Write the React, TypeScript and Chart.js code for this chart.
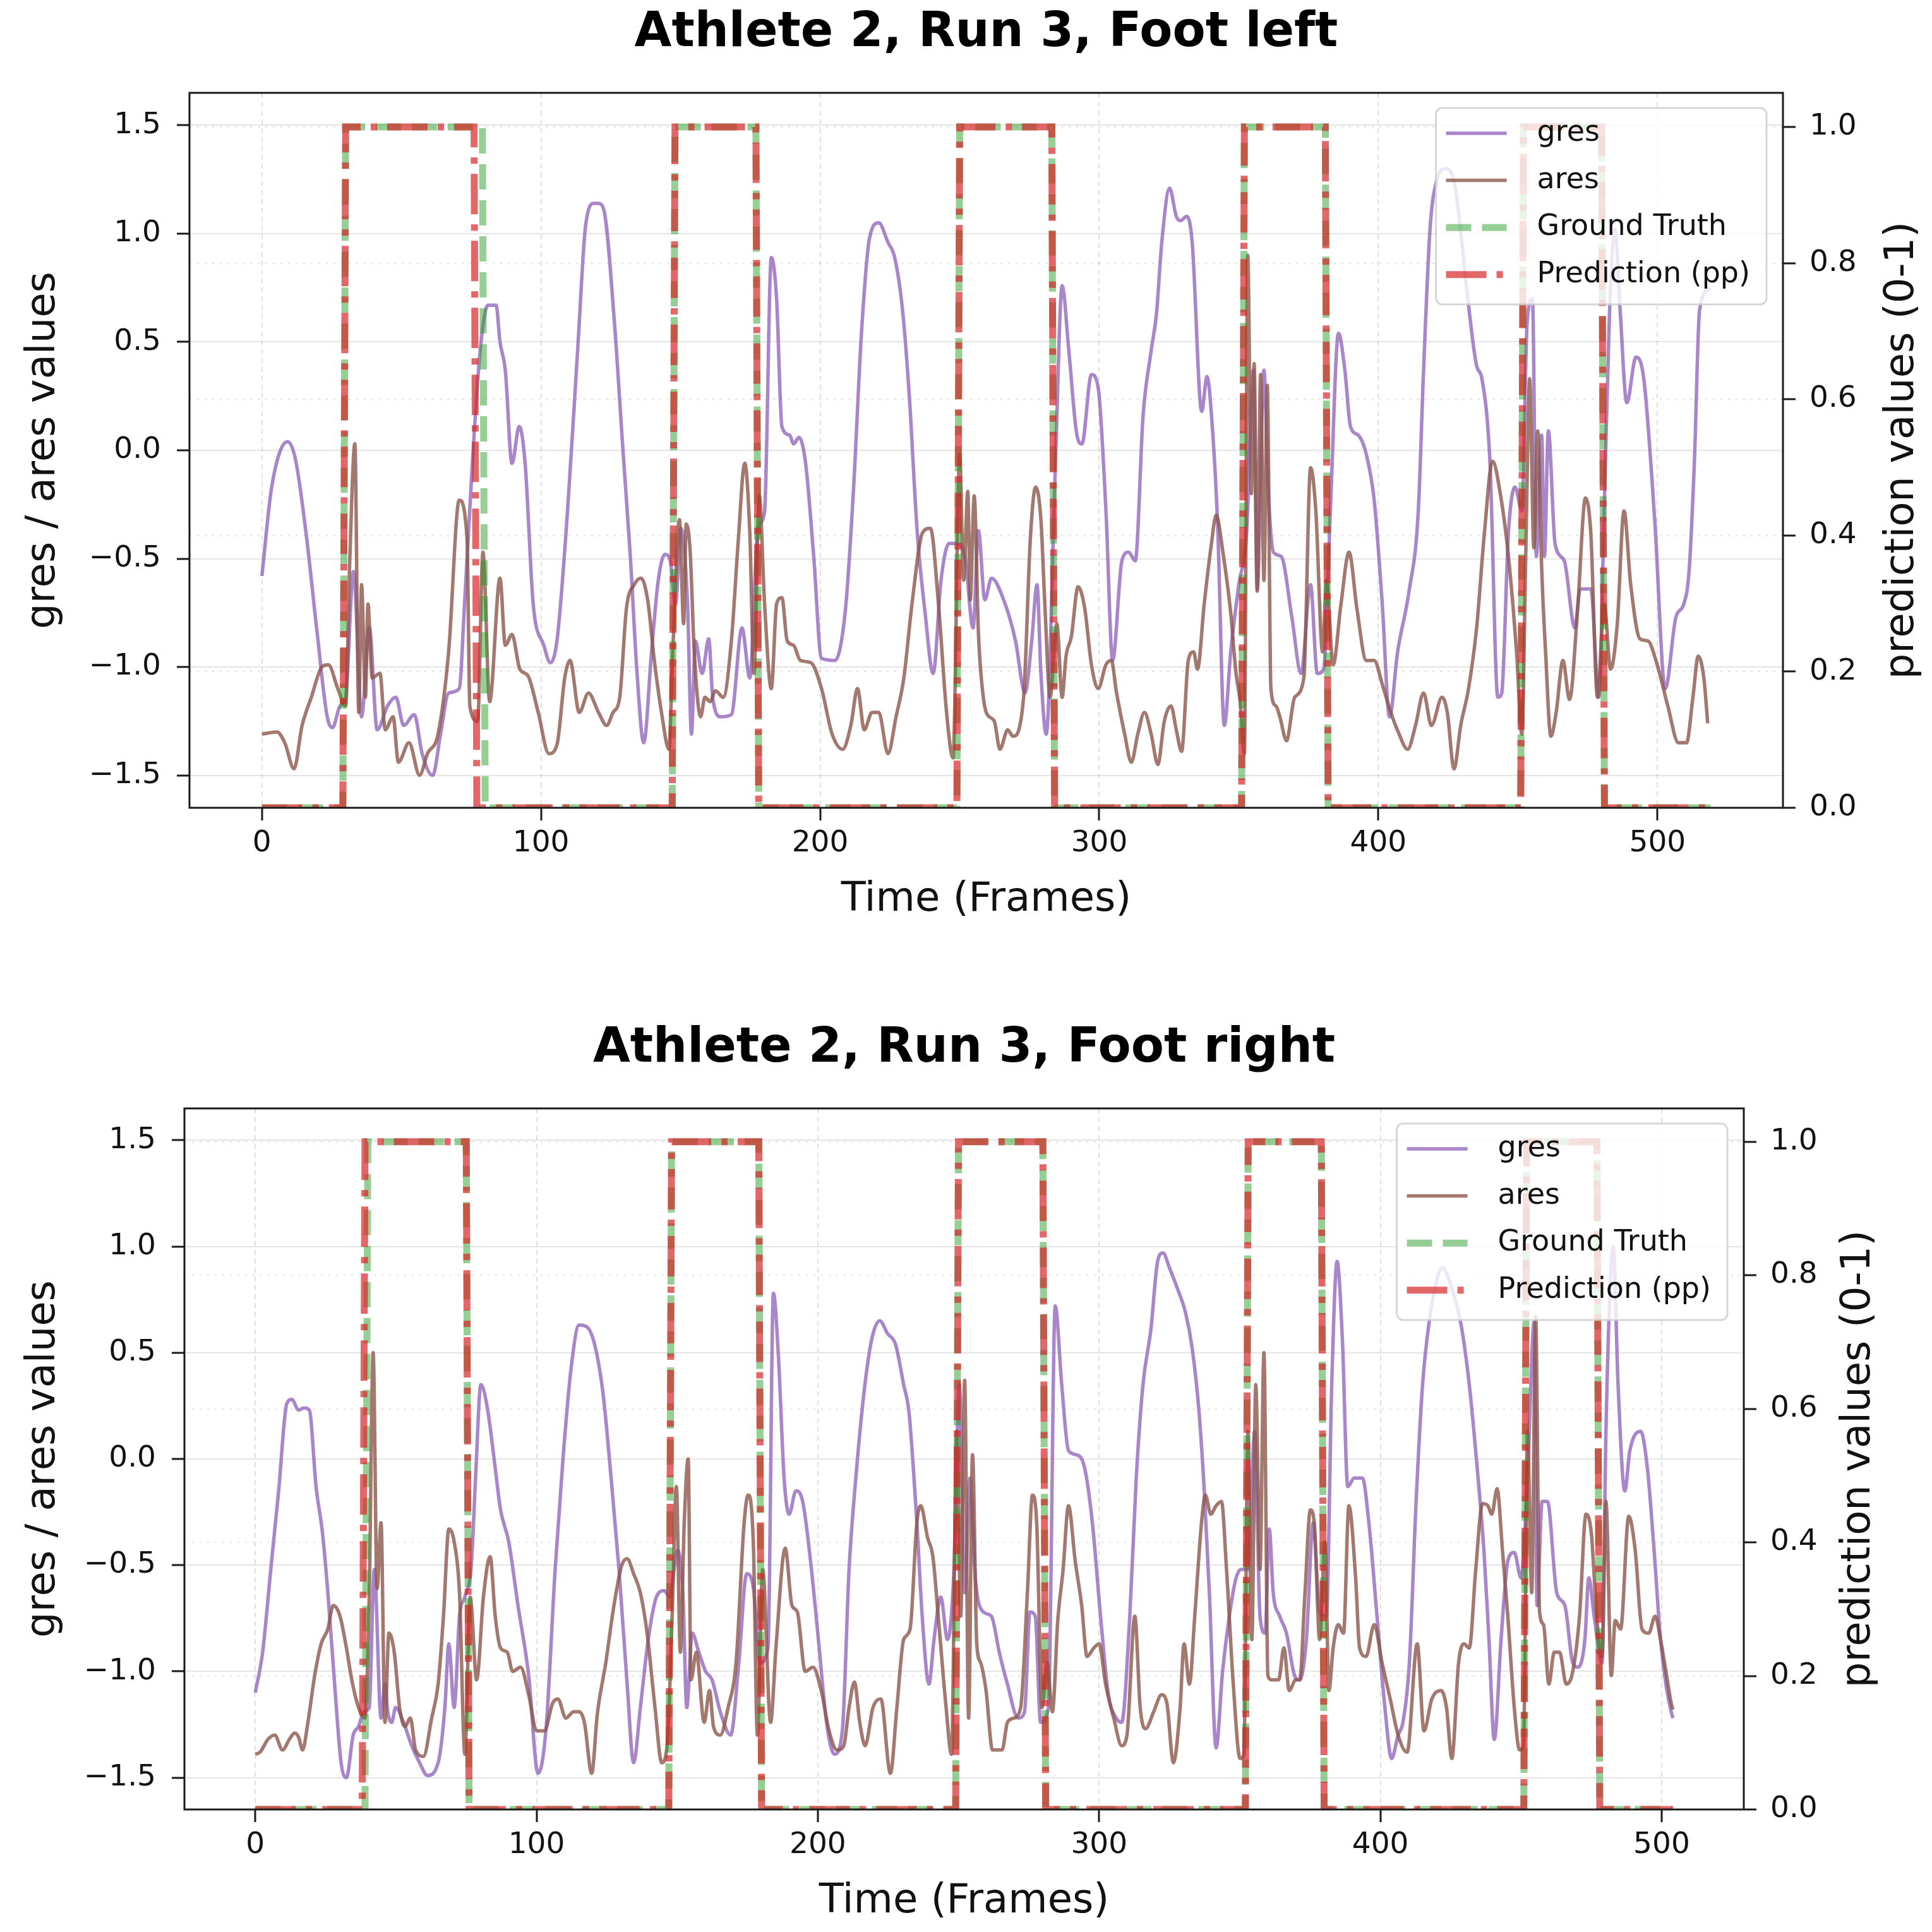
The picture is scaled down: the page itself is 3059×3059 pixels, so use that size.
import React, { useEffect, useRef } from 'react';
import { Chart, registerables } from 'chart.js';

Chart.register(...registerables);

const FONT = '"DejaVu Sans", sans-serif';
const PAGE = 3059;

const GRES_COLOR = 'rgba(148,103,189,0.8)';
const ARES_COLOR = 'rgba(140,86,75,0.8)';
const GT_COLOR = 'rgba(44,160,44,0.5)';
const PRED_COLOR = 'rgba(214,39,40,0.7)';
const SIGNAL_WIDTH = 5.5;
const STEP_WIDTH = 11;

// tick labels
const xTickValues = [0, 100, 200, 300, 400, 500];
const leftTickValues = [-1.5, -1.0, -0.5, 0.0, 0.5, 1.0, 1.5];
const rightTickValues = [0, 0.2, 0.4, 0.6, 0.8, 1.0];

// ---- left foot ----
const leftFrames = 520;
// first frame of each contact phase / first frame after it
const gtLeftOn = [30, 148, 250, 352, 452];
const gtLeftOff = [80, 178, 284, 382, 481];
const predLeftOn = [30, 148, 250, 352, 452];
const predLeftOff = [77, 178, 284, 382, 481];

const gresLeft: [number, number][] = [
  [0, -0.58], [3.5, -0.17], [9.2, 0.04], [12, -0.04], [15.8, -0.38], [19.6, -0.82], [23.4, -1.23], [25.3, -1.28],
  [28, -1.18], [30, -1.14], [32.8, -0.56], [35.7, -1.23], [38.5, -0.82], [41.3, -1.29], [45, -1.18], [48, -1.14],
  [50.8, -1.27], [54.6, -1.22], [57.4, -1.4], [61.2, -1.5], [64, -1.31], [66.9, -1.12], [70.7, -1.1], [72.6, -0.71],
  [75.4, -0.06], [78.2, 0.46], [81, 0.67], [83.9, 0.67], [85.3, 0.5], [87.2, 0.37], [89.6, -0.06], [92.2, 0.11],
  [94.3, -0.06], [97.2, -0.71], [101, -0.9], [103.3, -0.98], [105.7, -0.88], [109.5, -0.28], [113.2, 0.48], [116, 1.04],
  [119, 1.14], [120.5, 1.14], [122.5, 1.11], [126.3, 0.59], [129.2, 0.03], [132, -0.49], [134.4, -1.03], [136.8, -1.35],
  [139.6, -0.93], [142, -0.6], [144.4, -0.48], [146.3, -0.51], [148.2, -0.71], [150.1, -0.36], [152.5, -0.71], [153.9, -1.31],
  [155.3, -0.88], [157.7, -1.03], [160.1, -0.87], [161.5, -1.14], [164.4, -1.23], [168.2, -1.22], [172, -0.82], [174.8, -1.05],
  [177.7, -0.36], [180.1, -0.28], [182.5, 0.89], [184.4, 0.7], [186.3, 0.11], [189.1, 0.07], [190.5, 0.03], [192.4, 0.06],
  [194.8, -0.06], [197.7, -0.49], [200.5, -0.96], [205.3, -0.97], [209.1, -0.73], [212, -0.17], [214.8, 0.54], [217.7, 0.98],
  [221, 1.05], [224.3, 0.96], [226.7, 0.89], [229.5, 0.65], [231.9, 0.26], [234.8, -0.38], [237.6, -0.75], [240.5, -1.03],
  [243.3, -0.6], [246.2, -0.43], [249.1, -0.43], [251.9, -0.49], [254.8, -0.82], [256.7, -0.37], [259, -0.69], [261.4, -0.59],
  [266.3, -0.71], [270, -0.88], [273.4, -1.12], [275.8, -0.88], [277.7, -0.62], [279.1, -1.03], [281, -1.31], [284.3, -0.06],
  [286.7, 0.76], [289.1, 0.46], [292, 0.07], [293.8, 0.03], [297.2, 0.35], [299.6, 0.29], [302.4, -0.28], [304.8, -0.97],
  [308.1, -0.51], [310.5, -0.47], [312.9, -0.51], [315.7, 0.16], [318.6, 0.46], [320.5, 0.63], [322.4, 0.96], [325.2, 1.21],
  [327.6, 1.08], [329, 1.06], [331.4, 1.08], [333.3, 0.96], [336.7, 0.18], [338.6, 0.34], [340.5, 0.11], [342.4, -0.34],
  [344.8, -1.27], [347.1, -0.93], [350, -0.62], [352.8, -0.38], [355.2, 0.37], [356.6, -0.64], [359, 0.37], [360.5, -0.17],
  [362.4, -0.47], [365.2, -0.49], [369, -0.77], [372.3, -1.03], [375.7, -0.62], [378.1, -1.03], [380.4, -1.01], [382.8, -0.28],
  [385.7, 0.54], [388, 0.37], [390, 0.11], [392.8, 0.07], [395.7, -0.02], [398.5, -0.23], [401.4, -0.71], [404, -1.23],
  [406.9, -0.93], [411, -0.65], [414.3, -0.28], [416.2, 0.37], [418.5, 1.02], [421, 1.25], [424, 1.3], [427, 1.25],
  [430, 0.95], [432.3, 0.67], [435.2, 0.39], [437.1, 0.33], [440, -0.06], [442.8, -1.14], [444.2, -1.12], [446.6, -0.38],
  [449, -0.17], [451.4, -0.28], [453.3, 0.59], [455.2, 0.7], [456.6, -0.49], [458.5, 0.07], [459.5, -0.49], [460.9, 0.09],
  [463.3, -0.43], [466.6, -0.51], [470.4, -0.82], [472.3, -0.64], [476.1, -0.64], [479, -1.14], [480.9, -0.28], [482.8, 0.63],
  [484.8, 1.02], [486.6, 0.65], [489, 0.22], [492.3, 0.43], [495.1, 0.33], [499, -0.32], [502.8, -1.1], [506.6, -0.77],
  [509.4, -0.71], [511.3, -0.56], [513.2, -0.06], [515.1, 0.65], [519, 0.75],
];

const aresLeft: [number, number][] = [
  [0, -1.31], [5.4, -1.3], [8.2, -1.35], [11.5, -1.47], [14.4, -1.27], [17.7, -1.14], [21.5, -1.0], [23.8, -0.99],
  [27.2, -1.1], [30, -1.18], [31.5, -0.5], [33.3, 0.03], [34.7, -1.21], [35.7, -0.62], [37.1, -1.14], [38, -0.71],
  [39.5, -1.05], [42.3, -1.03], [44.2, -1.29], [47, -1.23], [48.9, -1.44], [52.7, -1.35], [56.5, -1.5], [59.3, -1.4],
  [63.1, -1.31], [66.9, -0.93], [70.7, -0.23], [73.5, -0.41], [74.5, -1.18], [77.3, -1.25], [79.2, -0.47], [81.6, -1.16],
  [85.3, -0.59], [87.2, -0.9], [89.6, -0.85], [92.4, -1.01], [95.3, -1.04], [99, -1.21], [102.8, -1.4], [105.7, -1.36],
  [108.5, -1.05], [110.4, -0.97], [113.7, -1.21], [117, -1.12], [120.6, -1.21], [123.5, -1.27], [125.8, -1.21], [128.2, -1.14],
  [130.6, -0.73], [133.4, -0.62], [135.8, -0.59], [138.2, -0.69], [140.6, -0.97], [143.4, -1.23], [145.8, -1.38], [147.2, -0.93],
  [149.6, -0.32], [151.1, -0.8], [152, -0.34], [153.4, -0.46], [154.9, -0.93], [157.2, -1.23], [158.7, -1.14], [160.6, -1.16],
  [162.5, -1.11], [165.3, -1.14], [168.2, -0.88], [170.6, -0.43], [173, -0.06], [174.8, -0.38], [176.3, -1.03], [178.2, -0.21],
  [180.1, -0.71], [182.5, -1.1], [184.4, -0.71], [186.3, -0.68], [188.2, -0.88], [190.5, -0.9], [192.9, -0.97], [196.7, -0.98],
  [200.5, -1.1], [204.3, -1.31], [208.1, -1.38], [211, -1.27], [213.4, -1.1], [215.8, -1.29], [218.6, -1.21], [221, -1.21],
  [224.3, -1.4], [227.2, -1.23], [230, -1.05], [232.9, -0.71], [236.7, -0.38], [239.5, -0.36], [242.4, -0.71], [245.3, -1.21],
  [247.6, -1.42], [250, -0.02], [251.4, -0.6], [252.9, -0.19], [253.8, -0.69], [255.2, -0.21], [256.7, -0.84], [257.6, -1.03],
  [259.5, -1.21], [262.4, -1.25], [264.4, -1.38], [267.2, -1.29], [269.1, -1.32], [272.9, -1.14], [275.3, -0.41], [277.2, -0.17],
  [279.1, -0.32], [280.5, -0.71], [282.4, -1.14], [284.8, -0.8], [286.7, -1.14], [288.1, -0.95], [290, -0.86], [292.4, -0.63],
  [294.8, -0.73], [297.2, -0.99], [299.6, -1.1], [302.4, -0.99], [304.3, -0.97], [306.2, -1.12], [309.1, -1.31], [311.5, -1.44],
  [313.8, -1.31], [316.2, -1.21], [318.6, -1.31], [321, -1.45], [323.3, -1.25], [325.7, -1.18], [327.6, -1.29], [329.5, -1.39],
  [331.9, -0.97], [333.8, -0.93], [335.2, -1.01], [337.6, -0.71], [340, -0.45], [341.9, -0.3], [344.3, -0.47], [347.1, -0.75],
  [349, -1.03], [350.5, -1.16], [352, -1.4], [353.2, 0.9], [354.5, -0.2], [355.5, 0.4], [356.6, -0.65], [357.8, 0.35],
  [359, -0.6], [360.2, 0.3], [361.5, -1.1], [363.3, -1.18], [364.7, -1.23], [367.1, -1.34], [370, -1.14], [373.3, -1.05],
  [375.7, -0.08], [377.6, -0.28], [380, -0.93], [381.4, -0.6], [383.8, -0.99], [386.6, -0.71], [389.5, -0.47], [392.3, -0.73],
  [395.7, -0.97], [398.5, -0.97], [401.4, -1.08], [404.2, -1.2], [407.1, -1.3], [410.5, -1.38], [413.3, -1.27], [416.2, -1.12],
  [419, -1.27], [422.8, -1.14], [424.7, -1.21], [427.1, -1.47], [429.5, -1.27], [432.3, -1.1], [435.2, -0.82], [438, -0.38],
  [440.9, -0.05], [443.8, -0.21], [446.6, -0.49], [449.5, -0.93], [451.4, -1.31], [452.8, -0.49], [454.2, 0.33], [455.7, -0.45],
  [457.1, 0.09], [458.5, -0.54], [459.9, -0.93], [461.8, -1.32], [463.7, -1.21], [466.1, -0.97], [468.5, -1.15], [471.4, -0.73],
  [474.2, -0.22], [476.1, -0.38], [478.5, -1.14], [480.9, -0.71], [483.2, -1.01], [485.6, -0.8], [488, -0.28], [490.4, -0.62],
  [493.7, -0.87], [496.6, -0.88], [499.9, -0.99], [503.7, -1.18], [507.5, -1.35], [510.4, -1.35], [512.7, -1.14], [514.6, -0.95],
  [516.6, -1.05], [518, -1.26],
];

// ---- right foot ----
const rightFrames = 505;
const gtRightOn = [40, 148, 250, 353, 452];
const gtRightOff = [76, 180, 281, 380, 478];
const predRightOn = [39, 148, 250, 353, 452];
const predRightOff = [76, 180, 281, 380, 478];

const gresRight: [number, number][] = [
  [0, -1.1], [2.6, -0.91], [5.5, -0.52], [8.3, -0.15], [11.2, 0.26], [13, 0.28], [15.4, 0.23], [17.3, 0.24],
  [19.2, 0.23], [21.6, -0.13], [23.9, -0.35], [25.8, -0.63], [28.2, -1.06], [30.5, -1.43], [32.4, -1.5], [34.8, -1.3],
  [36.7, -1.26], [38.6, -1.19], [40.5, -1.17], [42.3, -0.52], [44.7, -1.22], [46.1, -1.06], [47.1, -1.19], [48.5, -1.24],
  [49.9, -1.17], [52.7, -1.24], [55.6, -1.35], [58.4, -1.43], [61.2, -1.49], [65, -1.43], [67.4, -1.17], [68.8, -0.87],
  [70.7, -1.17], [72.6, -0.74], [74.5, -0.65], [76.8, -0.5], [78.3, -0.09], [80.2, 0.35], [82.5, 0.24], [84.9, 0.0],
  [87.2, -0.24], [90.1, -0.39], [93.4, -0.69], [97.2, -1.02], [100.5, -1.48], [103.3, -1.28], [106.6, -0.52], [109.5, 0.02],
  [112.3, 0.43], [115.1, 0.63], [118, 0.62], [120.8, 0.53], [123.7, 0.3], [126.5, -0.09], [129.3, -0.52], [132.2, -1.06],
  [134.5, -1.43], [136.9, -1.17], [139.7, -0.85], [142.6, -0.65], [145.4, -0.62], [147.3, -0.65], [150.1, -0.43], [152, -0.63],
  [153.4, -1.17], [155.3, -0.82], [157.7, -0.91], [160.1, -1.0], [162.4, -1.04], [165.3, -1.19], [169, -1.3], [171.9, -0.96],
  [174.7, -0.54], [177.1, -0.61], [179.4, -0.96], [182.3, -0.89], [184.2, 0.78], [186, 0.48], [188, -0.09], [189.8, -0.26],
  [192.2, -0.15], [194.6, -0.2], [197.4, -0.48], [200.2, -0.85], [203.1, -1.24], [205.9, -1.39], [208.7, -1.28], [211.1, -0.52],
  [213.5, -0.09], [216.3, 0.3], [219.1, 0.56], [222, 0.65], [224.8, 0.59], [227.6, 0.54], [230.5, 0.35], [232.4, 0.22],
  [235.2, -0.3], [237.1, -0.74], [239.5, -1.06], [241.3, -0.85], [243.7, -0.65], [246.1, -0.85], [248.4, -0.52], [250.3, 0.35],
  [252.2, -0.63], [254.1, -0.09], [256, -0.56], [258.8, -0.72], [261.7, -0.74], [264.5, -0.91], [267.4, -1.06], [271.2, -1.22],
  [273.5, -1.19], [275.4, -0.72], [277.3, -0.74], [279.2, -1.24], [282, -1.17], [284.4, 0.72], [286.7, 0.35], [289.1, 0.04],
  [291.9, 0.02], [294.8, -0.04], [297.6, -0.3], [300.5, -0.74], [303.3, -1.11], [306.1, -1.22], [308, -1.24], [310.9, -0.74],
  [313.2, -0.09], [315.6, 0.35], [318.4, 0.61], [320.8, 0.93], [322.7, 0.97], [325, 0.9], [327.9, 0.8], [330.7, 0.69],
  [333.1, 0.52], [335.4, 0.24], [337.3, -0.13], [339.2, -0.63], [341.6, -1.36], [343.9, -1.0], [346.3, -0.74], [348.7, -0.56],
  [350.5, -0.52], [352.9, -0.52], [355.3, 0.13], [357.2, -0.74], [359, -0.82], [360.5, -0.33], [361.9, -0.63], [364.2, -0.74],
  [366.6, -0.82], [369.5, -1.02], [371.3, -1.04], [373.7, -0.85], [376.1, -0.3], [378.4, -0.72], [380.8, -0.74], [382.7, 0.35],
  [384.6, 0.93], [386.5, 0.56], [388.4, -0.13], [390.7, -0.09], [393.6, -0.09], [395.9, -0.3], [398.8, -0.74], [401.6, -1.17],
  [404, -1.41], [406.3, -1.3], [408, -1.24], [410.3, -0.96], [412.7, -0.2], [415, 0.35], [417.4, 0.65], [420.2, 0.85],
  [422, 0.9], [425, 0.82], [428.7, 0.63], [431.6, 0.35], [434.4, -0.04], [436.8, -0.43], [438.6, -0.85], [440.5, -1.32],
  [442.9, -0.85], [445.3, -0.48], [447.6, -0.44], [450, -0.56], [452.3, -0.09], [454.7, 0.65], [455.7, -0.69], [457.5, -0.2],
  [459.4, -0.2], [462.7, -0.63], [465.6, -0.69], [468.4, -0.96], [470.3, -0.98], [472.7, -0.85], [474.1, -0.56], [476, -0.74],
  [478.8, -0.96], [480.2, 0.13], [481.6, 0.78], [482.8, 1.0], [484.5, 0.35], [486.9, -0.15], [488.7, 0.04], [492.5, 0.13],
  [494.9, -0.04], [497.2, -0.41], [499.6, -0.85], [501.5, -1.06], [503.4, -1.19], [504, -1.22],
];

const aresRight: [number, number][] = [
  [0, -1.39], [1.7, -1.38], [4.5, -1.32], [6.9, -1.3], [9.7, -1.37], [12.1, -1.32], [14, -1.29], [15.4, -1.31],
  [16.8, -1.37], [18.7, -1.24], [21.1, -1.02], [23.4, -0.87], [25.8, -0.8], [27.7, -0.69], [30.1, -0.74], [32.4, -0.89],
  [34.3, -1.04], [36.7, -1.17], [39, -1.22], [40.5, -0.65], [41.9, 0.5], [43.3, -0.61], [44.7, -0.3], [46.1, -1.24],
  [47.5, -0.82], [49.4, -0.91], [51.3, -1.17], [53.2, -1.26], [55.1, -1.22], [57, -1.37], [59.8, -1.4], [62.7, -1.22],
  [65, -1.06], [66.9, -0.74], [68.8, -0.33], [70.7, -0.39], [72.6, -0.63], [74.5, -1.39], [76.4, -0.65], [78.7, -1.04],
  [81.1, -0.65], [83.5, -0.46], [85.3, -0.74], [87.2, -0.89], [89.6, -0.91], [91.5, -1.0], [94.3, -0.98], [97.2, -1.11],
  [100, -1.28], [102.8, -1.28], [105.7, -1.15], [107.6, -1.13], [110.4, -1.22], [113.2, -1.19], [115.1, -1.19], [117, -1.24],
  [119.6, -1.48], [121.6, -1.2], [124.6, -0.96], [127.5, -0.69], [130.3, -0.5], [132.2, -0.47], [134.5, -0.54], [136.9, -0.63],
  [139.3, -0.82], [142.1, -1.17], [144.5, -1.43], [146.4, -1.35], [148.2, -0.74], [149.7, -0.13], [151.1, -0.91], [152.5, -0.3],
  [153.9, 0.0], [154.9, -1.04], [156.8, -0.91], [159.6, -1.24], [161.5, -1.09], [162.9, -1.26], [165.3, -1.3], [168.1, -1.17],
  [170.9, -0.96], [173.8, -0.3], [175.2, -0.17], [177.1, -0.41], [178.5, -1.3], [180.4, -0.52], [183.2, -1.24], [185.1, -0.89],
  [188.4, -0.42], [190.8, -0.69], [192.7, -0.72], [195.5, -1.0], [198.3, -0.98], [201.2, -1.09], [204, -1.28], [206.8, -1.37],
  [209.2, -1.35], [211.1, -1.17], [213, -1.05], [214.9, -1.24], [216.8, -1.35], [219.6, -1.17], [222.4, -1.13], [225.8, -1.48],
  [228.1, -1.17], [230.5, -0.85], [232.8, -0.8], [235.2, -0.3], [236.6, -0.22], [239, -0.37], [240.9, -0.46], [242.8, -0.74],
  [245.6, -1.17], [247.5, -1.39], [249.4, 0.13], [250.8, -0.74], [252.2, 0.37], [253.6, -1.22], [255, 0.02], [256.5, -0.87],
  [257.9, -0.96], [259.8, -1.09], [262.1, -1.37], [263.6, -1.37], [265.5, -1.37], [267.4, -1.24], [269.7, -1.22], [272.1, -1.17],
  [274.5, -0.63], [276.3, -0.17], [277.8, -0.3], [279.7, -1.17], [281.5, -0.96], [283.4, -1.19], [285.3, -0.76], [287.2, -0.52],
  [289.1, -0.22], [291.5, -0.48], [293.8, -0.69], [295.7, -0.93], [298.1, -0.89], [300, -0.87], [302.3, -1.06], [305.2, -1.22],
  [308, -1.35], [309.9, -1.3], [312.7, -0.74], [314.6, -1.17], [316.5, -1.27], [319.4, -1.19], [322.2, -1.11], [324.1, -1.15],
  [326.4, -1.43], [328.8, -1.17], [330.2, -0.87], [332.1, -1.06], [334, -0.74], [336.4, -0.3], [337.8, -0.17], [339.7, -0.26],
  [341.6, -0.22], [343.5, -0.2], [345.3, -0.52], [347.7, -1.06], [350.1, -1.41], [351.5, -1.39], [352.9, 0.13], [354.3, -0.85],
  [355.7, 0.35], [357.2, -0.52], [358.6, 0.5], [360, -1.02], [361.4, -1.04], [363.8, -1.04], [365.7, -0.89], [367.6, -1.09],
  [369.9, -1.04], [371.3, -1.04], [373.2, -0.63], [375.1, -0.24], [376.5, -0.3], [378.4, -0.85], [380.3, -0.39], [381.7, -1.09],
  [383.2, -0.89], [385, -0.78], [386.9, -0.82], [388.8, -0.22], [391.2, -0.56], [392.6, -0.89], [394.9, -0.93], [397.8, -0.78],
  [400.6, -0.96], [403.5, -1.13], [406.3, -1.3], [409.5, -1.38], [413.1, -0.87], [415.5, -1.28], [418.3, -1.13], [421.6, -1.09],
  [423.5, -1.17], [425.4, -1.41], [427.8, -0.96], [429.7, -0.87], [431.6, -0.89], [433.9, -0.52], [436.3, -0.21], [438.2, -0.22],
  [439.6, -0.26], [441.5, -0.14], [443.4, -0.43], [445.3, -0.74], [447.6, -1.17], [449.5, -1.37], [450.9, -1.35], [452.3, 0.13],
  [453.8, -0.63], [455.2, 0.67], [456.6, -0.72], [458, -0.78], [459.9, -1.06], [461.8, -0.91], [463.7, -0.91], [466.1, -1.06],
  [468.4, -1.0], [470.8, -0.74], [473.1, -0.26], [475, -0.35], [476.9, -0.74], [478.8, -0.93], [480.2, -0.2], [482.1, -1.02],
  [483.5, -0.76], [485.4, -0.8], [488.3, -0.27], [490.6, -0.43], [493, -0.8], [495.4, -0.82], [497.7, -0.74], [499.6, -0.85],
  [502, -1.04], [503.4, -1.15], [504, -1.18],
];

// 0/1 contact signal per frame from the phase lists
const stepSeries = (n: number, on: number[], off: number[]) =>
  Array.from({ length: n }, (_, i) => ({
    x: i,
    y: on.some((s, k) => i >= s && i < off[k]) ? 1 : 0,
  }));

const fmt = (v: number) => (Math.abs(v) < 1e-9 ? '0.0' : v.toFixed(1).replace('-', '\u2212'));

interface Area { left: number; right: number; top: number; bottom: number }

const legendItems = [
  { label: 'gres', color: GRES_COLOR, width: SIGNAL_WIDTH, dash: [] as number[] },
  { label: 'ares', color: ARES_COLOR, width: SIGNAL_WIDTH, dash: [] as number[] },
  { label: 'Ground Truth', color: GT_COLOR, width: STEP_WIDTH, dash: [40, 17] },
  { label: 'Prediction (pp)', color: PRED_COLOR, width: STEP_WIDTH, dash: [64, 16, 10, 16] },
];

const decor = {
  id: 'decor',
  afterDatasetsDraw(chart: any) {
    const { ctx, chartArea: a } = chart;
    ctx.save();
    ctx.strokeStyle = '#1a1a1a';
    ctx.lineWidth = 3;
    ctx.strokeRect(a.left, a.top, a.right - a.left, a.bottom - a.top);
    ctx.restore();
  },
  afterDraw(chart: any, _args: any, opts: any) {
    const { ctx, chartArea: a } = chart;
    ctx.save();
    // title
    ctx.fillStyle = '#000';
    ctx.font = `bold 76px ${FONT}`;
    ctx.textAlign = 'center';
    ctx.textBaseline = 'middle';
    ctx.fillText(opts.title, (a.left + a.right) / 2, a.top - 94);

    // right axis title, reads bottom to top like the left one
    ctx.save();
    ctx.font = `64px ${FONT}`;
    ctx.fillStyle = '#111';
    ctx.translate(a.right + opts.rightTitleOffset, (a.top + a.bottom) / 2);
    ctx.rotate(-Math.PI / 2);
    ctx.fillText('prediction values (0-1)', 0, 0);
    ctx.restore();

    // legend
    ctx.font = `46px ${FONT}`;
    const textW = Math.max(...legendItems.map((it) => ctx.measureText(it.label).width));
    const w = 160 + textW + 26;
    const h = 311;
    const x = a.right - 26 - w;
    const y = a.top + 24;
    ctx.beginPath();
    ctx.roundRect(x, y, w, h, 10);
    ctx.fillStyle = 'rgba(255,255,255,0.8)';
    ctx.fill();
    ctx.strokeStyle = 'rgba(204,204,204,0.8)';
    ctx.lineWidth = 3;
    ctx.stroke();
    legendItems.forEach((it, i) => {
      const cy = y + 40 + i * 74.6;
      ctx.beginPath();
      ctx.setLineDash(it.dash);
      ctx.strokeStyle = it.color;
      ctx.lineWidth = it.width;
      ctx.moveTo(x + 16, cy);
      ctx.lineTo(x + 112, cy);
      ctx.stroke();
      ctx.setLineDash([]);
      ctx.fillStyle = '#111';
      ctx.textAlign = 'left';
      ctx.fillText(it.label, x + 160, cy);
    });
    ctx.restore();
  },
};

interface PanelProps {
  title: string;
  height: number;
  area: Area;
  frames: number;
  gres: [number, number][];
  ares: [number, number][];
  gtOn: number[];
  gtOff: number[];
  predOn: number[];
  predOff: number[];
  rightTitleOffset: number;
}

const Panel: React.FC<PanelProps> = (p) => {
  const canvasRef = useRef<HTMLCanvasElement | null>(null);

  useEffect(() => {
    if (!canvasRef.current) return;
    const margin = (p.frames - 1) * 0.05;
    const tickFont = { family: FONT, size: 47 };
    const tickGrid = (color: string) => ({
      color,
      lineWidth: 2,
      tickLength: 20,
      tickColor: '#1a1a1a',
      tickWidth: 3,
    });
    const xTitlePad = p.height - (p.area.bottom + 146) - 38.4;

    const chart = new Chart(canvasRef.current, {
      type: 'line',
      data: {
        datasets: [
          {
            label: 'Prediction (pp)',
            data: stepSeries(p.frames, p.predOn, p.predOff),
            yAxisID: 'y1',
            borderColor: PRED_COLOR,
            borderWidth: STEP_WIDTH,
            borderDash: [64, 16, 10, 16],
            pointRadius: 0,
            tension: 0,
            clip: 0,
            order: 0,
          },
          {
            label: 'Ground Truth',
            data: stepSeries(p.frames, p.gtOn, p.gtOff),
            yAxisID: 'y1',
            borderColor: GT_COLOR,
            borderWidth: STEP_WIDTH,
            borderDash: [40, 17],
            pointRadius: 0,
            tension: 0,
            clip: 0,
            order: 1,
          },
          {
            label: 'ares',
            data: p.ares.map(([x, y]) => ({ x, y })),
            yAxisID: 'y',
            borderColor: ARES_COLOR,
            borderWidth: SIGNAL_WIDTH,
            pointRadius: 0,
            cubicInterpolationMode: 'monotone',
            order: 2,
          },
          {
            label: 'gres',
            data: p.gres.map(([x, y]) => ({ x, y })),
            yAxisID: 'y',
            borderColor: GRES_COLOR,
            borderWidth: SIGNAL_WIDTH,
            pointRadius: 0,
            cubicInterpolationMode: 'monotone',
            order: 3,
          },
        ],
      },
      options: {
        animation: false,
        responsive: false,
        devicePixelRatio: 1,
        layout: { padding: { top: p.area.top, left: 0, right: 0, bottom: 0 } },
        plugins: {
          legend: { display: false },
          tooltip: { enabled: false },
          decor: { title: p.title, rightTitleOffset: p.rightTitleOffset },
        } as any,
        scales: {
          x: {
            type: 'linear',
            min: -margin,
            max: p.frames - 1 + margin,
            afterBuildTicks: (s: any) => { s.ticks = xTickValues.map((value) => ({ value })); },
            afterFit: (s: any) => { s.height = p.height - p.area.bottom; },
            ticks: { font: tickFont, color: '#111', padding: 9, callback: (v: any) => String(v) },
            grid: tickGrid('rgba(0,0,0,0.12)'),
            border: { display: false, dash: [8, 6] },
            title: {
              display: true,
              text: 'Time (Frames)',
              color: '#111',
              font: { family: FONT, size: 64 },
              padding: { top: 0, bottom: xTitlePad },
            },
          },
          y: {
            position: 'left',
            min: -1.65,
            max: 1.65,
            afterBuildTicks: (s: any) => { s.ticks = leftTickValues.map((value) => ({ value })); },
            afterFit: (s: any) => { s.width = p.area.left; },
            ticks: { font: tickFont, color: '#111', padding: 25, callback: (v: any) => fmt(Number(v)) },
            grid: tickGrid('rgba(0,0,0,0.1)'),
            border: { display: false },
            title: {
              display: true,
              text: 'gres / ares values',
              color: '#111',
              font: { family: FONT, size: 64 },
              padding: { top: 69 - 38.4, bottom: 0 },
            },
          },
          y1: {
            position: 'right',
            min: 0,
            max: 1.05,
            afterBuildTicks: (s: any) => { s.ticks = rightTickValues.map((value) => ({ value })); },
            afterFit: (s: any) => { s.width = PAGE - p.area.right; },
            ticks: { font: tickFont, color: '#111', padding: 22, callback: (v: any) => fmt(Number(v)) },
            grid: tickGrid('rgba(0,0,0,0.12)'),
            border: { display: false, dash: [3, 9] },
          },
        },
      } as any,
      plugins: [decor],
    });

    return () => {
      chart.destroy();
    };
  }, []);

  return (
    <canvas
      ref={canvasRef}
      width={PAGE}
      height={p.height}
      style={{ display: 'block', width: PAGE, height: p.height }}
    />
  );
};

const App: React.FC = () => (
  <div style={{ position: 'absolute', left: 0, top: 0, width: PAGE, height: PAGE, background: '#fff' }}>
    <Panel
      title="Athlete 2, Run 3, Foot left"
      height={1530}
      area={{ left: 300, right: 2823, top: 147, bottom: 1279 }}
      frames={leftFrames}
      gres={gresLeft}
      ares={aresLeft}
      gtOn={gtLeftOn}
      gtOff={gtLeftOff}
      predOn={predLeftOn}
      predOff={predLeftOff}
      rightTitleOffset={189}
    />
    <Panel
      title="Athlete 2, Run 3, Foot right"
      height={1529}
      area={{ left: 292, right: 2761, top: 225, bottom: 1335 }}
      frames={rightFrames}
      gres={gresRight}
      ares={aresRight}
      gtOn={gtRightOn}
      gtOff={gtRightOff}
      predOn={predRightOn}
      predOff={predRightOff}
      rightTitleOffset={182}
    />
  </div>
);

export default App;
